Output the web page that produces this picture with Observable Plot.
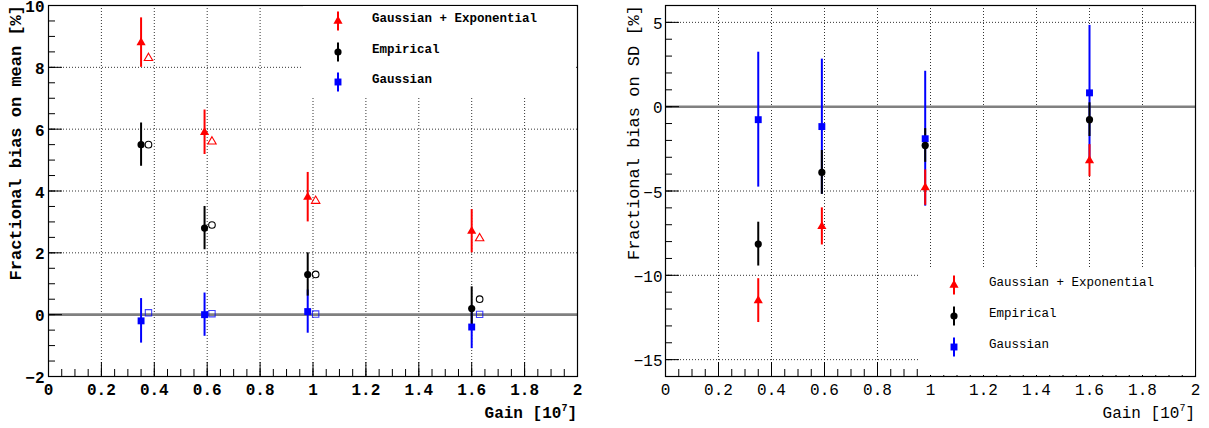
<!DOCTYPE html>
<html>
<head>
<meta charset="utf-8">
<script src="https://cdn.jsdelivr.net/npm/d3@7"></script>
<script src="https://cdn.jsdelivr.net/npm/@observablehq/plot@0.6"></script>
<style>
  html, body { margin: 0; padding: 0; background: #fff; }
  #wrap { display: flex; width: 1209px; height: 428px; overflow: hidden; }
  .panel { position: relative; height: 428px; }
  .panel svg { display: block; }
  .legend { position: absolute; background: #fff; }
  .legend .row { position: absolute; left: 0; display: flex; align-items: center; height: 20px; }
  .legend .row svg { position: absolute; }
  .legend .row span { position: absolute; white-space: pre; font-family: "Liberation Mono", "DejaVu Sans Mono", monospace; font-size: 12.5px; color: #000; }
</style>
</head>
<body>
<div id="wrap"></div>
<script>
// ---------------- data ----------------
const seriesNames = ["Gaussian + Exponential", "Empirical", "Gaussian"];
const seriesColors = ["#ff0000", "#000000", "#0000ff"];
const seriesSymbols = ["triangle", "circle", "square"];

const gains = [0.35, 0.59, 0.98, 1.60];
const gainsOpen = [0.378, 0.618, 1.01, 1.63];

// left panel: fractional bias on mean [%]
const meanGausExp = [8.8, 5.9, 3.8, 2.7];
const meanGausExpErr = [0.8, 0.72, 0.8, 0.7];
const meanGausExpOpen = [8.3, 5.6, 3.68, 2.47];
const meanEmp = [5.5, 2.8, 1.3, 0.2];
const meanEmpErr = [0.7, 0.7, 0.7, 0.7];
const meanEmpOpen = [5.5, 2.9, 1.3, 0.5];
const meanGaus = [-0.2, 0.0, 0.1, -0.4];
const meanGausErr = [0.72, 0.7, 0.7, 0.7];
const meanGausOpen = [0.06, 0.03, 0.02, 0.01];

// right panel: fractional bias on SD [%]
const sdGausExp = [-11.5, -7.1, -4.8, -3.2];
const sdGausExpErr = [1.3, 1.1, 1.05, 0.95];
const sdEmp = [-8.15, -3.9, -2.3, -0.77];
const sdEmpErr = [1.3, 1.3, 1.0, 1.0];
const sdGaus = [-0.77, -1.18, -1.9, 0.82];
const sdGausErr = [4.0, 4.0, 4.0, 4.0];

// ticks
const xMajorTicks = [0, 0.2, 0.4, 0.6, 0.8, 1, 1.2, 1.4, 1.6, 1.8, 2];
const xMinorTicks = d3.range(0, 2.0001, 0.05);
const xGrid = [0.2, 0.4, 0.6, 0.8, 1, 1.2, 1.4, 1.6, 1.8];
const meanYMajor = [-2, 0, 2, 4, 6, 8, 10];
const meanYMinor = d3.range(-2, 10.0001, 0.5);
const meanYGrid = [2, 4, 6, 8, 10];
const sdYMajor = [-15, -10, -5, 0, 5];
const sdYMinor = d3.range(-16, 6.0001, 1);
const sdYGrid = [-15, -10, -5, 5];

// ---------------- helpers ----------------
const H = 428, MT = 5, MB = 52;
const FONT = '"Liberation Mono", "DejaVu Sans Mono", monospace';
const fmt = d3.format("~g");

function rows(xs, ys, errs) {
  return xs.map((x, i) => ({x, y: ys[i], e: errs ? errs[i] : 0}));
}

const symR = {triangle: 3.4, circle: 3.6, square: 3.9};

function makePanel(cfg) {
  const {width, marginLeft, marginRight, yDomain, yMajor, yMinor, yGrid,
         filled, open, bold, yTitle, yPad, legend} = cfg;
  const innerW = width - marginLeft - marginRight;
  const innerH = H - MT - MB;
  const marks = [
    Plot.gridX(xGrid, {stroke: "#000", strokeOpacity: 0.8, strokeDasharray: "1,2"}),
    Plot.gridY(yGrid, {stroke: "#000", strokeOpacity: 0.8, strokeDasharray: "1,2"}),
    Plot.ruleY([0], {stroke: "#808080", strokeWidth: 2.6}),
    Plot.ruleX(xMinorTicks, {x: d => d, insetTop: innerH - 7, stroke: "#000"}),
    Plot.ruleX(xMajorTicks, {x: d => d, insetTop: innerH - 14, stroke: "#000"}),
    Plot.ruleY(yMinor, {y: d => d, insetRight: innerW - 7, stroke: "#000"}),
    Plot.ruleY(yMajor, {y: d => d, insetRight: innerW - 14, stroke: "#000"}),
    Plot.frame({stroke: "#000", strokeWidth: 1.2}),
    Plot.axisX(xMajorTicks, {tickSize: 0, tickPadding: 7, label: null, tickFormat: fmt}),
    Plot.axisY(yMajor, {tickSize: 0, tickPadding: yPad, label: null, tickFormat: fmt, dy: 1.5})
  ];
  // error bars: blue, black, red order
  [2, 1, 0].forEach(k => {
    marks.push(Plot.ruleX(filled[k], {x: "x", y1: d => d.y - d.e, y2: d => d.y + d.e,
      stroke: seriesColors[k], strokeWidth: 2}));
  });
  if (open) {
    [2, 1, 0].forEach(k => {
      marks.push(Plot.dot(open[k], {x: "x", y: "y", symbol: seriesSymbols[k],
        r: symR[seriesSymbols[k]] * 0.92, fill: "#fff", fillOpacity: 0, stroke: seriesColors[k],
        strokeOpacity: k === 2 ? 0.75 : 1, strokeWidth: 1.1}));
    });
  }
  [2, 1, 0].forEach(k => {
    marks.push(Plot.dot(filled[k], {x: "x", y: "y", symbol: seriesSymbols[k],
      r: symR[seriesSymbols[k]], fill: seriesColors[k], stroke: "none"}));
  });

  const svg = Plot.plot({
    width, height: H,
    marginLeft, marginRight, marginTop: MT, marginBottom: MB,
    x: {domain: [0, 2]},
    y: {domain: yDomain},
    style: {fontFamily: FONT, fontSize: "16px", fontWeight: bold ? "bold" : "normal", color: "#000", background: "#fff", overflow: "visible"},
    marks
  });

  const s = d3.select(svg);
  // y-axis title, right-aligned at the top
  s.append("text")
    .attr("transform", `translate(${cfg.yTitleX},${MT}) rotate(-90)`)
    .attr("text-anchor", "end")
    .attr("dy", "0.35em")
    .attr("font-family", FONT)
    .attr("font-size", 17)
    .attr("font-weight", bold ? "bold" : "normal")
    .attr("fill", "#000")
    .text(yTitle);
  // x-axis title with superscript
  const xt = s.append("text")
    .attr("x", width - marginRight)
    .attr("y", 418)
    .attr("text-anchor", "end")
    .attr("font-family", FONT)
    .attr("font-size", 16)
    .attr("font-weight", bold ? "bold" : "normal")
    .attr("fill", "#000");
  xt.append("tspan").text("Gain [10");
  xt.append("tspan").attr("font-size", 10).attr("dy", -7).text("7");
  xt.append("tspan").attr("dy", 7).text("]");

  const div = document.createElement("div");
  div.className = "panel";
  div.style.width = width + "px";
  div.appendChild(svg);

  // legend box (HTML overlay, white background hides the grid)
  const lg = document.createElement("div");
  lg.className = "legend";
  Object.assign(lg.style, {left: legend.left + "px", top: legend.top + "px",
    width: legend.width + "px", height: legend.height + "px"});
  seriesNames.forEach((name, k) => {
    const row = document.createElement("div");
    row.className = "row";
    row.style.top = (legend.rows[k] - 10) + "px";
    row.style.width = legend.width + "px";
    const sw = d3.create("svg").attr("width", 20).attr("height", 20)
      .style("left", (legend.markerX - 10) + "px").style("top", "0px");
    sw.append("line").attr("x1", 10).attr("x2", 10).attr("y1", 0.5).attr("y2", 19.5)
      .attr("stroke", seriesColors[k]).attr("stroke-width", 2);
    const r = symR[seriesSymbols[k]];
    const sym = {triangle: d3.symbolTriangle, circle: d3.symbolCircle, square: d3.symbolSquare}[seriesSymbols[k]];
    sw.append("path").attr("transform", "translate(10,10)")
      .attr("d", d3.symbol(sym, Math.PI * r * r)())
      .attr("fill", seriesColors[k]);
    row.appendChild(sw.node());
    const sp = document.createElement("span");
    sp.textContent = name;
    sp.style.left = legend.textX + "px";
    sp.style.top = "1px";
    sp.style.fontWeight = bold ? "bold" : "normal";
    row.appendChild(sp);
    lg.appendChild(row);
  });
  div.appendChild(lg);
  return div;
}

const wrap = document.getElementById("wrap");

wrap.appendChild(makePanel({
  width: 604, marginLeft: 48, marginRight: 27,
  yDomain: [-2, 10], yMajor: meanYMajor, yMinor: meanYMinor, yGrid: meanYGrid,
  filled: [rows(gains, meanGausExp, meanGausExpErr), rows(gains, meanEmp, meanEmpErr), rows(gains, meanGaus, meanGausErr)],
  open: [rows(gainsOpen, meanGausExpOpen), rows(gainsOpen, meanEmpOpen), rows(gainsOpen, meanGausOpen)],
  bold: true, yTitle: "Fractional bias on mean [%]", yTitleX: 15, yPad: 4,
  legend: {left: 303, top: 6, width: 273, height: 92, rows: [15, 46, 76], markerX: 35, textX: 69}
}));

wrap.appendChild(makePanel({
  width: 605, marginLeft: 61, marginRight: 14,
  yDomain: [-16, 6], yMajor: sdYMajor, yMinor: sdYMinor, yGrid: sdYGrid,
  filled: [rows(gains, sdGausExp, sdGausExpErr), rows(gains, sdEmp, sdEmpErr), rows(gains, sdGaus, sdGausErr)],
  open: null,
  bold: false, yTitle: "Fractional bias on SD [%]", yTitleX: 29, yPad: 3,
  legend: {left: 316, top: 267, width: 275, height: 108, rows: [18, 49, 80], markerX: 34, textX: 69}
}));
</script>
</body>
</html>
